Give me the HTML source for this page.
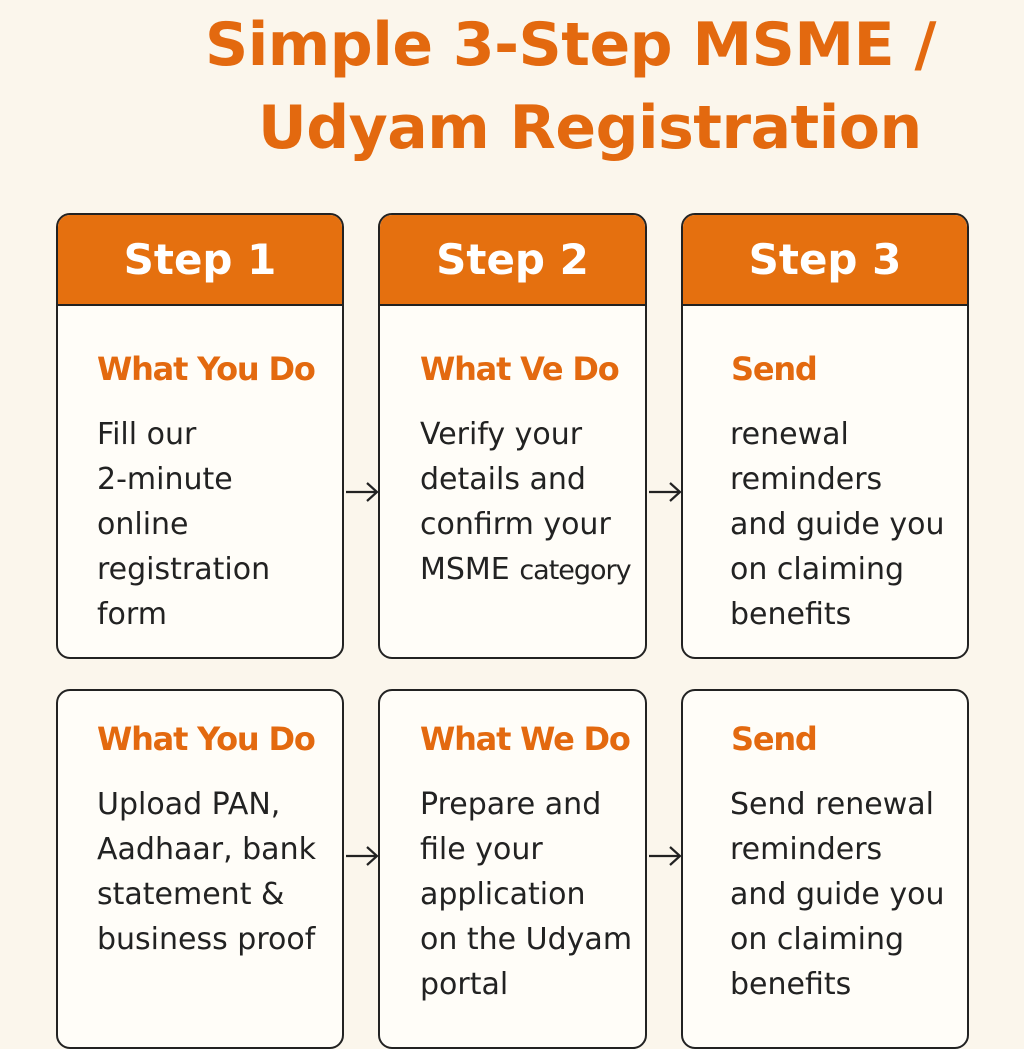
<!DOCTYPE html>
<html><head><style>
body{margin:0;width:1024px;height:1024px;background:#fbf6ec;position:relative;overflow:hidden;font-family:"DejaVu Sans","Liberation Sans",sans-serif;}
.t{position:absolute;color:#e3690f;font-weight:bold;font-size:60px;white-space:nowrap;letter-spacing:-0.5px}
.card{position:absolute;border:2.5px solid #222;border-radius:14px;background:#fffdf8;box-sizing:border-box;overflow:hidden}
.hd{height:89px;background:#e5700f;border-bottom:2.5px solid #222;color:#fff;font-weight:bold;font-size:42px;text-align:center;line-height:89px}
.h{position:absolute;color:#e3690f;font-weight:bold;font-size:32px;white-space:nowrap;letter-spacing:-1.2px}
.b{position:absolute;color:#222;font-size:30px;line-height:45px;white-space:nowrap}
.ar{position:absolute;width:34px;height:20px}
</style></head><body>
<div class="t" style="left:205px;top:10px">Simple 3-Step MSME /</div>
<div class="t" style="left:258px;top:93px">Udyam Registration</div>

<div class="card" style="left:56px;top:213px;width:288px;height:446px"><div class="hd">Step 1</div></div>
<div class="card" style="left:378px;top:213px;width:269px;height:446px"><div class="hd">Step 2</div></div>
<div class="card" style="left:681px;top:213px;width:288px;height:446px"><div class="hd">Step 3</div></div>
<div class="card" style="left:56px;top:689px;width:288px;height:360px"></div>
<div class="card" style="left:378px;top:689px;width:269px;height:360px"></div>
<div class="card" style="left:681px;top:689px;width:288px;height:360px"></div>

<div class="h" style="left:97px;top:350px">What You Do</div>
<div class="h" style="left:420px;top:350px">What Ve Do</div>
<div class="h" style="left:731px;top:350px">Send</div>
<div class="b" style="left:97px;top:412px">Fill our<br>2-minute<br>online<br>registration<br>form</div>
<div class="b" style="left:420px;top:412px">Verify your<br>details and<br>confirm your<br>MSME <span style="font-size:27px;letter-spacing:-1px">category</span></div>
<div class="b" style="left:730px;top:412px">renewal<br>reminders<br>and guide you<br>on claiming<br>benefits</div>

<div class="h" style="left:97px;top:720px">What You Do</div>
<div class="h" style="left:420px;top:720px">What We Do</div>
<div class="h" style="left:731px;top:720px">Send</div>
<div class="b" style="left:97px;top:782px">Upload PAN,<br>Aadhaar, bank<br>statement &amp;<br>business proof</div>
<div class="b" style="left:420px;top:782px">Prepare and<br>file your<br>application<br>on the Udyam<br>portal</div>
<div class="b" style="left:730px;top:782px">Send renewal<br>reminders<br>and guide you<br>on claiming<br>benefits</div>

<svg class="ar" style="left:345px;top:482px" viewBox="0 0 34 20"><path d="M1 10H32M22 1L32 10L22 19" fill="none" stroke="#222" stroke-width="2.2"/></svg>
<svg class="ar" style="left:648px;top:482px" viewBox="0 0 34 20"><path d="M1 10H32M22 1L32 10L22 19" fill="none" stroke="#222" stroke-width="2.2"/></svg>
<svg class="ar" style="left:345px;top:846px" viewBox="0 0 34 20"><path d="M1 10H32M22 1L32 10L22 19" fill="none" stroke="#222" stroke-width="2.2"/></svg>
<svg class="ar" style="left:648px;top:846px" viewBox="0 0 34 20"><path d="M1 10H32M22 1L32 10L22 19" fill="none" stroke="#222" stroke-width="2.2"/></svg>
</body></html>
